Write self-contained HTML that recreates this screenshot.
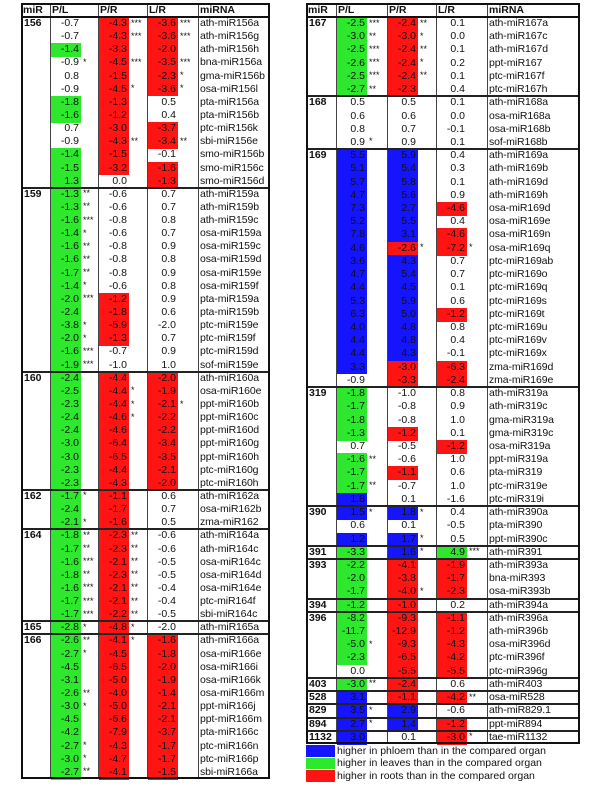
<!DOCTYPE html>
<html><head><meta charset="utf-8"><style>
body{margin:0;width:600px;height:786px;background:#fff;font-family:"Liberation Sans",Arial,sans-serif;position:relative;overflow:hidden}
.a{position:absolute;box-sizing:border-box}
.t{position:absolute;font-size:10.5px;line-height:13px;white-space:nowrap;color:#111}
.m{letter-spacing:-0.1px}
.s{position:absolute;font-size:9px;line-height:11px;white-space:nowrap;color:#111}
</style></head><body>
<div id="root"></div>
<script>
// Left table rows: group|name|PL|stars|color|PR|stars|color|LR|stars|color
const leftRows=[
"156|ath-miR156a|-0.7|||-4.3|***|r|-3.6|***|r","|ath-miR156g|-0.7|||-4.3|***|r|-3.6|***|r","|ath-miR156h|-1.4||g|-3.3||r|-2.0||r","|bna-miR156a|-0.9|*||-4.5|***|r|-3.5|***|r","|gma-miR156b|0.8|||-1.5||r|-2.3|*|r","|osa-miR156l|-0.9|||-4.5|*|r|-3.6|*|r","|pta-miR156a|-1.8||g|-1.3||r|0.5||","|pta-miR156b|-1.6||g|-1.2||r|0.4||","|ptc-miR156k|0.7|||-3.0||r|-3.7||r","|sbi-miR156e|-0.9|||-4.3|**|r|-3.4|**|r","|smo-miR156b|-1.4||g|-1.5||r|-0.1||","|smo-miR156c|-1.5||g|-3.2||r|-1.6||r","|smo-miR156d|1.3||g|0.0|||-1.3||r",
"159|ath-miR159a|-1.3|**|g|-0.6|||0.7||","|ath-miR159b|-1.3|**|g|-0.6|||0.7||","|ath-miR159c|-1.6|***|g|-0.8|||0.8||","|osa-miR159a|-1.4|*|g|-0.6|||0.7||","|osa-miR159c|-1.6|**|g|-0.8|||0.9||","|osa-miR159d|-1.6|**|g|-0.8|||0.8||","|osa-miR159e|-1.7|**|g|-0.8|||0.9||","|osa-miR159f|-1.4|*|g|-0.6|||0.8||","|pta-miR159a|-2.0|***|g|-1.2||r|0.9||","|pta-miR159b|-2.4||g|-1.8||r|0.6||","|ptc-miR159e|-3.8|*|g|-5.9||r|-2.0||","|ptc-miR159f|-2.0|*|g|-1.3||r|0.7||","|ptc-miR159d|-1.6|***|g|-0.7|||0.9||","|sof-miR159e|-1.9|***|g|-1.0|||1.0||",
"160|ath-miR160a|-2.4||g|-4.4||r|-2.0||r","|osa-miR160e|-2.5||g|-4.4|*|r|-1.9||r","|ppt-miR160b|-2.3||g|-4.4|*|r|-2.1|*|r","|ppt-miR160c|-2.4||g|-4.6|*|r|-2.2||r","|ppt-miR160d|-2.4||g|-4.6||r|-2.2||r","|ppt-miR160g|-3.0||g|-6.4||r|-3.4||r","|ppt-miR160h|-3.0||g|-6.5||r|-3.5||r","|ptc-miR160g|-2.3||g|-4.4||r|-2.1||r","|ptc-miR160h|-2.3||g|-4.3||r|-2.0||r",
"162|ath-miR162a|-1.7|*|g|-1.1||r|0.6||","|osa-miR162b|-2.4||g|-1.7||r|0.7||","|zma-miR162|-2.1|*|g|-1.6||r|0.5||",
"164|ath-miR164a|-1.8|**|g|-2.3|**|r|-0.6||","|ath-miR164c|-1.7|**|g|-2.3|**|r|-0.6||","|osa-miR164c|-1.6|***|g|-2.1|**|r|-0.5||","|osa-miR164d|-1.8|**|g|-2.3|**|r|-0.5||","|osa-miR164e|-1.6|***|g|-2.1|**|r|-0.4||","|ptc-miR164f|-1.7|***|g|-2.1|**|r|-0.4||","|sbi-miR164c|-1.7|***|g|-2.2|**|r|-0.5||",
"165|ath-miR165a|-2.8|*|g|-4.8|*|r|-2.0||",
"166|ath-miR166a|-2.6|**|g|-4.1|*|r|-1.6||r","|osa-miR166e|-2.7|*|g|-4.5||r|-1.8||r","|osa-miR166i|-4.5||g|-6.5||r|-2.0||r","|osa-miR166k|-3.1||g|-5.0||r|-1.9||r","|osa-miR166m|-2.6|**|g|-4.0||r|-1.4||r","|ppt-miR166j|-3.0|*|g|-5.0||r|-2.1||r","|ppt-miR166m|-4.5||g|-6.6||r|-2.1||r","|pta-miR166c|-4.2||g|-7.9||r|-3.7||r","|ptc-miR166n|-2.7|*|g|-4.3||r|-1.7||r","|ptc-miR166p|-3.0|*|g|-4.7||r|-1.7||r","|sbi-miR166a|-2.7|**|g|-4.1||r|-1.5||r"];
const rightRows=[
"167|ath-miR167a|-2.5|***|g|-2.4|**|r|0.1||","|ath-miR167c|-3.0|**|g|-3.0|*|r|0.0||","|ath-miR167d|-2.5|***|g|-2.4|**|r|0.1||","|ppt-miR167|-2.6|***|g|-2.4|*|r|0.2||","|ptc-miR167f|-2.5|***|g|-2.4|**|r|0.1||","|ptc-miR167h|-2.7|**|g|-2.3||r|0.4||",
"168|ath-miR168a|0.5|||0.5|||0.1||","|osa-miR168a|0.6|||0.6|||0.0||","|osa-miR168b|0.8|||0.7|||-0.1||","|sof-miR168b|0.9|*||0.9|||0.1||",
"169|ath-miR169a|5.5||b|5.9||b|0.4||","|ath-miR169b|5.1||b|5.4||b|0.3||","|ath-miR169d|5.7||b|5.8||b|0.1||","|ath-miR169h|4.7||b|5.6||b|0.9||","|osa-miR169d|7.3||b|2.7||b|-4.6||r","|osa-miR169e|5.2||b|5.5||b|0.4||","|osa-miR169n|7.8||b|3.1||b|-4.6||r","|osa-miR169q|4.6||b|-2.6|*|r|-7.2|*|r","|ptc-miR169ab|3.6||b|4.3||b|0.7||","|ptc-miR169o|4.7||b|5.4||b|0.7||","|ptc-miR169q|4.4||b|4.5||b|0.1||","|ptc-miR169s|5.3||b|5.9||b|0.6||","|ptc-miR169t|6.3||b|5.0||b|-1.2||r","|ptc-miR169u|4.0||b|4.8||b|0.8||","|ptc-miR169v|4.4||b|4.8||b|0.4||","|ptc-miR169x|4.4||b|4.3||b|-0.1||","|zma-miR169d|3.3||b|-3.0||r|-6.3||r","|zma-miR169e|-0.9|||-3.3||r|-2.4||r",
"319|ath-miR319a|-1.8||g|-1.0|||0.8||","|ath-miR319c|-1.7||g|-0.8|||0.9||","|gma-miR319a|-1.8||g|-0.8|||1.0||","|gma-miR319c|-1.3||g|-1.2||r|0.1||","|osa-miR319a|0.7|||-0.5|||-1.2||r","|ppt-miR319a|-1.6|**|g|-0.6|||1.0||","|pta-miR319|-1.7||g|-1.1||r|0.6||","|ptc-miR319e|-1.7|**|g|-0.7|||1.0||","|ptc-miR319i|1.8||b|0.1|||-1.6||",
"390|ath-miR390a|1.5|*|b|1.8|*|b|0.4||","|pta-miR390|0.6|||0.1|||-0.5||","|ppt-miR390c|1.2||b|1.7|*|b|0.5||",
"391|ath-miR391|-3.3||g|1.6|*|b|4.9|***|g",
"393|ath-miR393a|-2.2||g|-4.1||r|-1.9||r","|bna-miR393|-2.0||g|-3.8||r|-1.7||r","|osa-miR393b|-1.7||g|-4.0|*|r|-2.3||r",
"394|ath-miR394a|-1.2||g|-1.0||r|0.2||",
"396|ath-miR396a|-8.2||g|-9.3||r|-1.1||r","|ath-miR396b|-11.7||g|-12.9||r|-1.2||r","|osa-miR396d|-5.0|*|g|-9.3||r|-4.3||r","|ptc-miR396f|-2.3||g|-6.5||r|-4.2||r","|ptc-miR396g|0.0|||-5.5||r|-5.5||r",
"403|ath-miR403|-3.0|**|g|-2.4||r|0.6||","528|osa-miR528|3.1||b|-1.1||r|-4.2|**|r","829|ath-miR829.1|3.5|*|b|2.9||b|-0.6||","894|ppt-miR894|2.7|*|b|1.4||b|-1.2||r","1132|tae-miR1132|3.0||b|0.1|||-3.0|*|r"];
const headers=["miR","P/L","P/R","L/R","miRNA"];
const COL={g:"#2ee82e",r:"#ff1414",b:"#1414ff"};
const root=document.getElementById('root');
function box(x,y,w,h,bg,name){const d=document.createElement('div');d.className='a';d.style.cssText=`left:${x}px;top:${y}px;width:${w}px;height:${h}px;background:${bg}`;


root.appendChild(d);return d;}
function txt(x,y,s,cls,name,align,bold){const d=document.createElement('div');d.className=cls;d.textContent=s;
if(align==='r'){d.style.right=(600-x)+'px';}else d.style.left=x+'px';d.style.top=y+'px';if(bold)d.style.fontWeight='bold';


root.appendChild(d);return d;}
function table(rows,cols,x0,x1,top,bottom,prefix){
  const hH=14, rh=(bottom-top-hH)/rows.length;
  const dt=top+hH;
  rows.forEach((r,i)=>{const f=r.split('|');const y=dt+i*rh;
    if(f[0])txt(x0+3,y,f[0],'t',prefix+'-group-'+f[0],'l',true);
    for(let k=0;k<3;k++){const cx=cols[k+1];const v=f[2+k*3],st=f[3+k*3],c=f[4+k*3];
      if(c)box(cx+1,y,30,rh+0.6,COL[c],prefix+'-cell-'+headers[k+1].replace('/','')+'-'+i);
      txt(cx+29,y,v,'t',prefix+'-value-'+i+'-'+k,'r');
      if(st)txt(cx+33,y+0.5,st,'s',prefix+'-stars-'+i+'-'+k,'l');}
    txt(cols[4]+2,y,f[1],'t m',prefix+'-mirna-'+f[1],'l');
  });
  headers.forEach((h,k)=>txt(cols[k]+2,top+0.5,h,'t',prefix+'-header-'+h.replace('/','').toLowerCase(),'l',true));
  cols.slice(1).forEach((cx,k)=>box(cx,top,1,bottom-top,'#444',prefix+'-col-line-'+k));
  box(x0,top+hH-1,x1-x0,2,'#111',prefix+'-header-line');
  rows.forEach((r,i)=>{if(i>0&&r.split('|')[0])box(x0,dt+i*rh-1,x1-x0,2,'#222',prefix+'-group-line-'+i);});
  const o=box(x0,top,x1-x0,bottom-top,'transparent',prefix+'-border');o.style.border='2px solid #111';
}
table(leftRows,[21,50,98,147,198],21,270,3,779,'left');
table(rightRows,[306,336,387,436,487],306,580,3,744,'right');
const legend=[["#1414ff","higher in phloem than in the compared organ"],["#2ee82e","higher in leaves than in the compared organ"],["#ff1414","higher in roots than in the compared organ"]];
legend.forEach((l,i)=>{const y=745+i*12.6;box(306,y,29,11.5,l[0],'legend-swatch-'+i);txt(337,y-0.5,l[1],'t','legend-label-'+i,'l');});
</script>
</body></html>
